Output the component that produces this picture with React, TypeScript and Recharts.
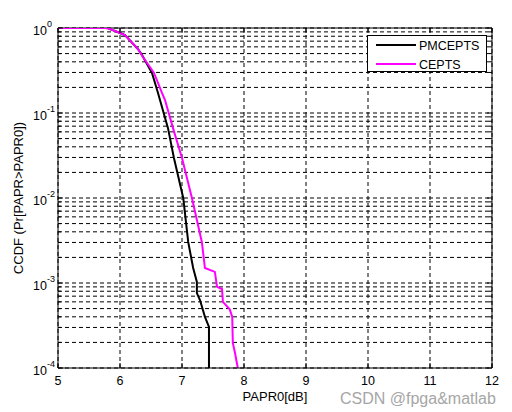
import { LineChart, Line, XAxis, YAxis, CartesianGrid, Legend, ReferenceLine } from 'recharts'

const xTicks = [5, 6, 7, 8, 9, 10, 11, 12]
const yTicks = [
  0.0001, 0.0002, 0.0003, 0.0004, 0.0005, 0.0006, 0.0007, 0.0008, 0.0009,
  0.001, 0.002, 0.003, 0.004, 0.005, 0.006, 0.007, 0.008, 0.009,
  0.01, 0.02, 0.03, 0.04, 0.05, 0.06, 0.07, 0.08, 0.09,
  0.1, 0.2, 0.3, 0.4, 0.5, 0.6, 0.7, 0.8, 0.9,
  1,
]

// PMCEPTS (black)
const pmceptsX = [5, 5.5, 5.76, 5.81, 6.0, 6.08, 6.29, 6.355, 6.516, 6.613, 6.645, 6.774, 6.87, 7.02, 7.1, 7.18, 7.24, 7.24, 7.29, 7.37, 7.435, 7.435]
const pmceptsY = [1, 1, 1, 0.99, 0.873, 0.827, 0.566, 0.481, 0.296, 0.172, 0.142, 0.0664, 0.0296, 0.01, 0.00304, 0.0015, 0.00103, 0.00076, 0.00063, 0.0004, 0.000304, 0.0001]

// CEPTS (magenta)
const ceptsX = [5, 5.5, 5.76, 5.81, 6.0, 6.08, 6.29, 6.37, 6.548, 6.677, 6.726, 6.855, 7.0, 7.16, 7.32, 7.37, 7.53, 7.565, 7.645, 7.66, 7.77, 7.81, 7.82, 7.855, 7.9]
const ceptsY = [1, 1, 1, 0.99, 0.873, 0.827, 0.566, 0.456, 0.296, 0.172, 0.142, 0.0664, 0.0296, 0.01, 0.00304, 0.0015, 0.00135, 0.0009, 0.00085, 0.0006, 0.00049, 0.0004, 0.000197, 0.00015, 0.0001]

const pmcepts = pmceptsX.map((x, i) => ({ x, y: pmceptsY[i] }))
const cepts = ceptsX.map((x, i) => ({ x, y: ceptsY[i] }))

const FONT = '"Liberation Sans", Arial, sans-serif'
const TOP = 28
const BOTTOM = 368
const LEFT = 58
const RIGHT = 492

function XTick(props: any) {
  const { x, payload } = props
  return (
    <g>
      <line x1={x} x2={x} y1={BOTTOM} y2={BOTTOM - 5} stroke="#000" />
      <line x1={x} x2={x} y1={TOP} y2={TOP + 5} stroke="#000" />
      <text x={x} y={BOTTOM + 17} textAnchor="middle" fontSize={12.5} fontFamily={FONT} fill="#000">
        {payload.value}
      </text>
    </g>
  )
}

function YTick(props: any) {
  const { y, payload } = props
  const exp = Math.log10(payload.value)
  const isDecade = Math.abs(exp - Math.round(exp)) < 1e-6
  const len = isDecade ? 5 : 3
  return (
    <g>
      <line x1={LEFT} x2={LEFT + len} y1={y} y2={y} stroke="#000" />
      <line x1={RIGHT} x2={RIGHT - len} y1={y} y2={y} stroke="#000" />
      {isDecade && (
        <text x={33} y={y + 7} fontSize={12.5} fontFamily={FONT} fill="#000">
          10
          <tspan dy={-8} fontSize={9}>{Math.round(exp)}</tspan>
        </text>
      )}
    </g>
  )
}

function LegendBox() {
  return (
    <div style={{ width: 120, height: 37, border: '1px solid #000', background: '#fff', boxSizing: 'border-box', position: 'relative' }}>
      <svg width={120} height={37} style={{ position: 'absolute', left: 0, top: 0 }}>
        <line x1={8} x2={48} y1={9} y2={9} stroke="#000" strokeWidth={2} />
        <text x={51} y={13.5} fontSize={12.5} fontFamily={FONT} fill="#000">PMCEPTS</text>
        <line x1={8} x2={48} y1={28} y2={28} stroke="#ff00ff" strokeWidth={2} />
        <text x={51} y={32.5} fontSize={12.5} fontFamily={FONT} fill="#000">CEPTS</text>
      </svg>
    </div>
  )
}

export default function App() {
  return (
    <div style={{ position: 'absolute', left: 0, top: 0, width: 512, height: 412, background: '#fff' }}>
      <LineChart width={512} height={412} margin={{ top: TOP, right: 512 - RIGHT, bottom: 0, left: 0 }}>
        <CartesianGrid stroke="#000" strokeDasharray="4 3" strokeWidth={1} />
        <XAxis
          dataKey="x"
          type="number"
          domain={[5, 12]}
          ticks={xTicks}
          height={412 - BOTTOM}
          allowDataOverflow
          axisLine={{ stroke: '#000' }}
          tickLine={false}
          tick={<XTick />}
          label={{
            content: (p: any) => (
              <text x={p.viewBox.x + p.viewBox.width / 2} y={p.viewBox.y + 33} textAnchor="middle" fontSize={13} fontFamily={FONT} fill="#000">
                PAPR0[dB]
              </text>
            ),
          }}
        />
        <YAxis
          dataKey="y"
          scale="log"
          domain={[0.0001, 1]}
          ticks={yTicks}
          interval={0}
          width={LEFT}
          allowDataOverflow
          axisLine={{ stroke: '#000' }}
          tickLine={false}
          tick={<YTick />}
          label={{
            content: (p: any) => {
              const cx = p.viewBox.x + 23
              const cy = p.viewBox.y + p.viewBox.height / 2
              return (
                <text x={cx} y={cy} transform={`rotate(-90, ${cx}, ${cy})`} textAnchor="middle" fontSize={13} fontFamily={FONT} fill="#000">
                  CCDF (Pr[PAPR&gt;PAPR0])
                </text>
              )
            },
          }}
        />
        <ReferenceLine x={12} stroke="#000" strokeWidth={1} />
        <ReferenceLine y={1} stroke="#000" strokeWidth={1} />
        <Line data={pmcepts} dataKey="y" name="PMCEPTS" stroke="#000" strokeWidth={2} dot={false} isAnimationActive={false} />
        <Line data={cepts} dataKey="y" name="CEPTS" stroke="#ff00ff" strokeWidth={2} dot={false} isAnimationActive={false} />
        <Legend
          layout="vertical"
          align="center"
          verticalAlign="middle"
          content={() => <LegendBox />}
          wrapperStyle={{ left: 367, top: 35, width: 120, height: 37 }}
        />
      </LineChart>
      <div style={{ position: 'absolute', left: 340, top: 390, fontFamily: FONT, fontSize: 16, color: '#a6a6a6', whiteSpace: 'nowrap' }}>
        CSDN @fpga&amp;matlab
      </div>
    </div>
  )
}
